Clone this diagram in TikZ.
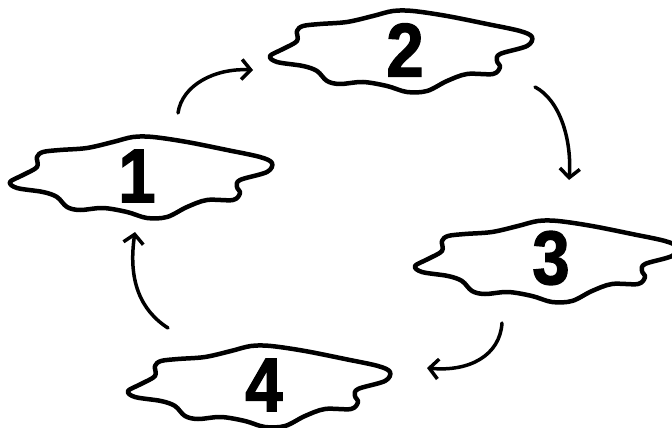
\documentclass[tikz,border=0pt]{standalone}
\usepackage{fontspec}
\newfontfamily\numfont{Liberation Sans Bold}[FakeBold=1.8,FakeStretch=0.88]
\usetikzlibrary{arrows.meta}
\tikzset{
  blobline/.style={line width=4.5pt, line join=round},
  puddle/.pic={
    \draw[blobline] plot[smooth cycle, tension=0.55] coordinates {
      (-127,6) (-114,-1) (-100,-9) (-100,-19) (-94,-24) (-77,-26) (-50,-28)
      (-24,-34) (-4,-39) (16,-39) (50,-34) (90,-26) (123,-19) (135,-13)
      (130,-4) (103,4) (100,11) (103,17) (96,24) (70,24) (50,31) (30,41)
      (10,42) (-10,36) (-34,32) (-57,34) (-70,31) (-80,21) (-94,16) (-120,12)};
  },
  num/.style={inner sep=0pt, font=\numfont\fontsize{76}{76}\selectfont},
  arr/.style={line width=3.5pt, line cap=round, -{Straight Barb[length=9pt,width=20pt,line width=3.5pt]}}
}
\begin{document}
\begin{tikzpicture}[x=1pt,y=-1pt]
\useasboundingbox (0,0) rectangle (672,428);
\pic at (137,176) {puddle};
\pic at (397,50) {puddle};
\pic at (542,260) {puddle};
\pic at (255,385) {puddle};
\node[num] (n1) at (137,176) {1};
\node[num] (n2) at (405,50) {2};
\node[num] (n3) at (551,258) {3};
\node[num] (n4) at (264,385) {4};
\coordinate (a1s) at (178,113);
\coordinate (a1e) at (253,70);
\coordinate (a2s) at (535,87);
\coordinate (a2e) at (569,180);
\coordinate (a3s) at (502,323);
\coordinate (a3e) at (427,368);
\coordinate (a4s) at (168,328);
\coordinate (a4e) at (135,232);
\draw[arr] (a1s) .. controls (182,85) and (215,68) .. (a1e);
\draw[arr] (a2s) .. controls (560,100) and (572,140) .. (a2e);
\draw[arr] (a3s) .. controls (500,355) and (470,372) .. (a3e);
\draw[arr] (a4s) .. controls (140,310) and (128,280) .. (a4e);
\end{tikzpicture}
\end{document}
